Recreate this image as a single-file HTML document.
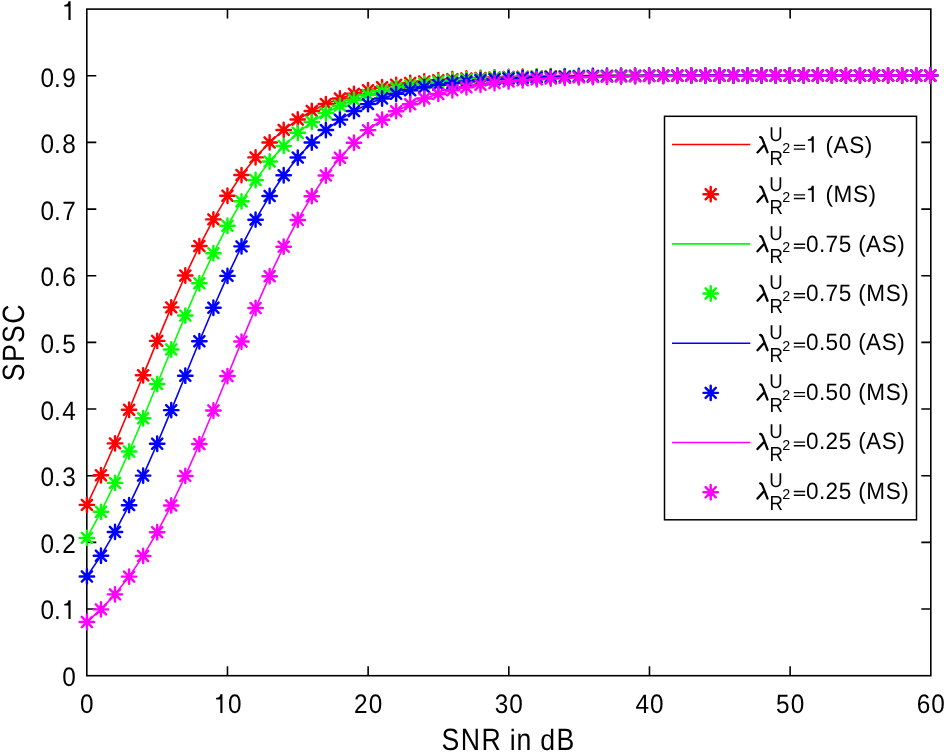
<!DOCTYPE html><html><head><meta charset="utf-8"><style>html,body{margin:0;padding:0;background:#fff;overflow:hidden}#w{position:absolute;left:0;top:0;width:944px;height:753px;will-change:transform}svg{display:block}text{font-family:"Liberation Sans",sans-serif;fill:#000;text-rendering:geometricPrecision}</style></head><body><div id="w">
<svg width="944" height="753" viewBox="0 0 944 753">
<rect x="0" y="0" width="944" height="753" fill="#fff"/>
<path d="M227.47,675.7V666.2M227.47,9.1V18.6M368.13,675.7V666.2M368.13,9.1V18.6M508.80,675.7V666.2M508.80,9.1V18.6M649.47,675.7V666.2M649.47,9.1V18.6M790.13,675.7V666.2M790.13,9.1V18.6M86.8,609.04H96.3M930.8,609.04H921.3M86.8,542.38H96.3M930.8,542.38H921.3M86.8,475.72H96.3M930.8,475.72H921.3M86.8,409.06H96.3M930.8,409.06H921.3M86.8,342.40H96.3M930.8,342.40H921.3M86.8,275.74H96.3M930.8,275.74H921.3M86.8,209.08H96.3M930.8,209.08H921.3M86.8,142.42H96.3M930.8,142.42H921.3M86.8,75.76H96.3M930.8,75.76H921.3" fill="none" stroke="#000" stroke-width="1.6"/>
<rect x="86.8" y="9.1" width="844.00" height="666.60" fill="none" stroke="#000" stroke-width="1.6"/>
<polyline points="86.91,504.85 100.97,475.28 115.02,443.38 129.08,409.79 143.13,375.33 157.19,340.89 171.24,307.36 185.30,275.54 199.36,246.07 213.41,219.39 227.47,195.71 241.52,175.08 255.58,157.39 269.63,142.42 283.69,129.90 297.75,119.53 311.80,111.01 325.86,104.05 339.91,98.40 353.97,93.83 368.02,90.15 382.08,87.19 396.13,84.82 410.19,82.93 424.25,81.41 438.30,80.20 452.36,79.24 466.41,78.47 480.47,77.86 494.52,77.38 508.58,76.99 522.64,76.68 536.69,76.44 550.75,76.24 564.80,76.09 578.86,75.96 592.91,75.87 606.97,75.79 621.03,75.73 635.08,75.68 649.14,75.64 663.19,75.61 677.25,75.58 691.30,75.57 705.36,75.55 719.41,75.54 733.47,75.53 747.53,75.52 761.58,75.51 775.64,75.51 789.69,75.51 803.75,75.50 817.80,75.50 831.86,75.50 845.92,75.50 859.97,75.49 874.03,75.49 888.08,75.49 902.14,75.49 916.19,75.49 930.25,75.49" fill="none" stroke="#ff0000" stroke-width="1.6" stroke-linejoin="round"/>
<path d="M79.71,504.85H94.11M86.91,497.65V512.05M81.82,499.76L92.00,509.95M81.82,509.95L92.00,499.76M93.77,475.28H108.17M100.97,468.08V482.48M95.87,470.19L106.06,480.37M95.87,480.37L106.06,470.19M107.82,443.38H122.22M115.02,436.18V450.58M109.93,438.28L120.11,448.47M109.93,448.47L120.11,438.28M121.88,409.79H136.28M129.08,402.59V416.99M123.99,404.70L134.17,414.88M123.99,414.88L134.17,404.70M135.93,375.33H150.33M143.13,368.13V382.53M138.04,370.24L148.22,380.42M138.04,380.42L148.22,370.24M149.99,340.89H164.39M157.19,333.69V348.09M152.10,335.80L162.28,345.98M152.10,345.98L162.28,335.80M164.04,307.36H178.44M171.24,300.16V314.56M166.15,302.27L176.34,312.45M166.15,312.45L176.34,302.27M178.10,275.54H192.50M185.30,268.34V282.74M180.21,270.45L190.39,280.63M180.21,280.63L190.39,270.45M192.16,246.07H206.56M199.36,238.87V253.27M194.26,240.98L204.45,251.17M194.26,251.17L204.45,240.98M206.21,219.39H220.61M213.41,212.19V226.59M208.32,214.30L218.50,224.48M208.32,224.48L218.50,214.30M220.27,195.71H234.67M227.47,188.51V202.91M222.38,190.62L232.56,200.80M222.38,200.80L232.56,190.62M234.32,175.08H248.72M241.52,167.88V182.28M236.43,169.99L246.61,180.17M236.43,180.17L246.61,169.99M248.38,157.39H262.78M255.58,150.19V164.59M250.49,152.30L260.67,162.48M250.49,162.48L260.67,152.30M262.43,142.42H276.83M269.63,135.22V149.62M264.54,137.33L274.72,147.51M264.54,147.51L274.72,137.33M276.49,129.90H290.89M283.69,122.70V137.10M278.60,124.81L288.78,134.99M278.60,134.99L288.78,124.81M290.55,119.53H304.94M297.75,112.33V126.73M292.65,114.44L302.84,124.62M292.65,124.62L302.84,114.44M304.60,111.01H319.00M311.80,103.81V118.21M306.71,105.92L316.89,116.10M306.71,116.10L316.89,105.92M318.66,104.05H333.06M325.86,96.85V111.25M320.77,98.96L330.95,109.14M320.77,109.14L330.95,98.96M332.71,98.40H347.11M339.91,91.20V105.60M334.82,93.31L345.00,103.49M334.82,103.49L345.00,93.31M346.77,93.83H361.17M353.97,86.63V101.03M348.88,88.74L359.06,98.92M348.88,98.92L359.06,88.74M360.82,90.15H375.22M368.02,82.95V97.35M362.93,85.06L373.11,95.24M362.93,95.24L373.11,85.06M374.88,87.19H389.28M382.08,79.99V94.39M376.99,82.10L387.17,92.29M376.99,92.29L387.17,82.10M388.93,84.82H403.33M396.13,77.62V92.02M391.04,79.73L401.23,89.92M391.04,89.92L401.23,79.73M402.99,82.93H417.39M410.19,75.73V90.13M405.10,77.84L415.28,88.02M405.10,88.02L415.28,77.84M417.05,81.41H431.45M424.25,74.21V88.61M419.15,76.32L429.34,86.50M419.15,86.50L429.34,76.32M431.10,80.20H445.50M438.30,73.00V87.40M433.21,75.11L443.39,85.30M433.21,85.30L443.39,75.11M445.16,79.24H459.56M452.36,72.04V86.44M447.27,74.15L457.45,84.33M447.27,84.33L457.45,74.15M459.21,78.47H473.61M466.41,71.27V85.67M461.32,73.38L471.50,83.56M461.32,83.56L471.50,73.38M473.27,77.86H487.67M480.47,70.66V85.06M475.38,72.77L485.56,82.95M475.38,82.95L485.56,72.77M487.32,77.38H501.72M494.52,70.18V84.58M489.43,72.28L499.62,82.47M489.43,82.47L499.62,72.28M501.38,76.99H515.78M508.58,69.79V84.19M503.49,71.90L513.67,82.08M503.49,82.08L513.67,71.90M515.44,76.68H529.84M522.64,69.48V83.88M517.54,71.59L527.73,81.77M517.54,81.77L527.73,71.59M529.49,76.44H543.89M536.69,69.24V83.64M531.60,71.35L541.78,81.53M531.60,81.53L541.78,71.35M543.55,76.24H557.95M550.75,69.04V83.44M545.66,71.15L555.84,81.33M545.66,81.33L555.84,71.15M557.60,76.09H572.00M564.80,68.89V83.29M559.71,71.00L569.89,81.18M559.71,81.18L569.89,71.00M571.66,75.96H586.06M578.86,68.76V83.16M573.77,70.87L583.95,81.06M573.77,81.06L583.95,70.87M585.71,75.87H600.11M592.91,68.67V83.07M587.82,70.78L598.01,80.96M587.82,80.96L598.01,70.78M599.77,75.79H614.17M606.97,68.59V82.99M601.88,70.70L612.06,80.88M601.88,80.88L612.06,70.70M613.83,75.73H628.23M621.03,68.53V82.93M615.93,70.64L626.12,80.82M615.93,80.82L626.12,70.64M627.88,75.68H642.28M635.08,68.48V82.88M629.99,70.59L640.17,80.77M629.99,80.77L640.17,70.59M641.94,75.64H656.34M649.14,68.44V82.84M644.05,70.55L654.23,80.73M644.05,80.73L654.23,70.55M655.99,75.61H670.39M663.19,68.41V82.81M658.10,70.52L668.28,80.70M658.10,80.70L668.28,70.52M670.05,75.58H684.45M677.25,68.38V82.78M672.16,70.49L682.34,80.68M672.16,80.68L682.34,70.49M684.10,75.57H698.50M691.30,68.37V82.77M686.21,70.47L696.39,80.66M686.21,80.66L696.39,70.47M698.16,75.55H712.56M705.36,68.35V82.75M700.27,70.46L710.45,80.64M700.27,80.64L710.45,70.46M712.21,75.54H726.62M719.41,68.34V82.74M714.32,70.45L724.51,80.63M714.32,80.63L724.51,70.45M726.27,75.53H740.67M733.47,68.33V82.73M728.38,70.44L738.56,80.62M728.38,80.62L738.56,70.44M740.33,75.52H754.73M747.53,68.32V82.72M742.44,70.43L752.62,80.61M742.44,80.61L752.62,70.43M754.38,75.51H768.78M761.58,68.31V82.71M756.49,70.42L766.67,80.60M756.49,80.60L766.67,70.42M768.44,75.51H782.84M775.64,68.31V82.71M770.55,70.42L780.73,80.60M770.55,80.60L780.73,70.42M782.49,75.51H796.89M789.69,68.31V82.71M784.60,70.41L794.78,80.60M784.60,80.60L794.78,70.41M796.55,75.50H810.95M803.75,68.30V82.70M798.66,70.41L808.84,80.59M798.66,80.59L808.84,70.41M810.60,75.50H825.00M817.80,68.30V82.70M812.71,70.41L822.90,80.59M812.71,80.59L822.90,70.41M824.66,75.50H839.06M831.86,68.30V82.70M826.77,70.41L836.95,80.59M826.77,80.59L836.95,70.41M838.72,75.50H853.12M845.92,68.30V82.70M840.82,70.40L851.01,80.59M840.82,80.59L851.01,70.40M852.77,75.49H867.17M859.97,68.29V82.69M854.88,70.40L865.06,80.59M854.88,80.59L865.06,70.40M866.83,75.49H881.23M874.03,68.29V82.69M868.94,70.40L879.12,80.58M868.94,80.58L879.12,70.40M880.88,75.49H895.28M888.08,68.29V82.69M882.99,70.40L893.17,80.58M882.99,80.58L893.17,70.40M894.94,75.49H909.34M902.14,68.29V82.69M897.05,70.40L907.23,80.58M897.05,80.58L907.23,70.40M908.99,75.49H923.39M916.19,68.29V82.69M911.10,70.40L921.29,80.58M911.10,80.58L921.29,70.40M923.05,75.49H937.45M930.25,68.29V82.69M925.16,70.40L935.34,80.58M925.16,80.58L935.34,70.40" fill="none" stroke="#ff0000" stroke-width="2.45" stroke-linecap="round"/>
<polyline points="86.91,537.88 100.97,511.81 115.02,482.89 129.08,451.52 143.13,418.28 157.19,383.96 171.24,349.43 185.30,315.59 199.36,283.28 213.41,253.18 227.47,225.77 241.52,201.33 255.58,179.95 269.63,161.54 283.69,145.91 297.75,132.81 311.80,121.93 325.86,112.98 339.91,105.65 353.97,99.70 368.02,94.88 382.08,91.00 396.13,87.87 410.19,85.37 424.25,83.36 438.30,81.76 452.36,80.48 466.41,79.46 480.47,78.65 494.52,78.00 508.58,77.49 522.64,77.08 536.69,76.75 550.75,76.49 564.80,76.29 578.86,76.12 592.91,75.99 606.97,75.89 621.03,75.81 635.08,75.74 649.14,75.69 663.19,75.65 677.25,75.62 691.30,75.59 705.36,75.57 719.41,75.55 733.47,75.54 747.53,75.53 761.58,75.52 775.64,75.52 789.69,75.51 803.75,75.51 817.80,75.50 831.86,75.50 845.92,75.50 859.97,75.50 874.03,75.50 888.08,75.49 902.14,75.49 916.19,75.49 930.25,75.49" fill="none" stroke="#00ff00" stroke-width="1.6" stroke-linejoin="round"/>
<path d="M79.71,537.88H94.11M86.91,530.68V545.08M81.82,532.79L92.00,542.97M81.82,542.97L92.00,532.79M93.77,511.81H108.17M100.97,504.61V519.01M95.87,506.72L106.06,516.90M95.87,516.90L106.06,506.72M107.82,482.89H122.22M115.02,475.69V490.09M109.93,477.80L120.11,487.98M109.93,487.98L120.11,477.80M121.88,451.52H136.28M129.08,444.32V458.72M123.99,446.43L134.17,456.61M123.99,456.61L134.17,446.43M135.93,418.28H150.33M143.13,411.08V425.48M138.04,413.19L148.22,423.37M138.04,423.37L148.22,413.19M149.99,383.96H164.39M157.19,376.76V391.16M152.10,378.87L162.28,389.05M152.10,389.05L162.28,378.87M164.04,349.43H178.44M171.24,342.23V356.63M166.15,344.34L176.34,354.52M166.15,354.52L176.34,344.34M178.10,315.59H192.50M185.30,308.39V322.79M180.21,310.50L190.39,320.68M180.21,320.68L190.39,310.50M192.16,283.28H206.56M199.36,276.08V290.48M194.26,278.19L204.45,288.37M194.26,288.37L204.45,278.19M206.21,253.18H220.61M213.41,245.98V260.38M208.32,248.09L218.50,258.27M208.32,258.27L218.50,248.09M220.27,225.77H234.67M227.47,218.57V232.97M222.38,220.68L232.56,230.86M222.38,230.86L232.56,220.68M234.32,201.33H248.72M241.52,194.13V208.53M236.43,196.24L246.61,206.42M236.43,206.42L246.61,196.24M248.38,179.95H262.78M255.58,172.75V187.15M250.49,174.85L260.67,185.04M250.49,185.04L260.67,174.85M262.43,161.54H276.83M269.63,154.34V168.74M264.54,156.45L274.72,166.63M264.54,166.63L274.72,156.45M276.49,145.91H290.89M283.69,138.71V153.11M278.60,140.82L288.78,151.00M278.60,151.00L288.78,140.82M290.55,132.81H304.94M297.75,125.61V140.01M292.65,127.72L302.84,137.90M292.65,137.90L302.84,127.72M304.60,121.93H319.00M311.80,114.73V129.13M306.71,116.84L316.89,127.02M306.71,127.02L316.89,116.84M318.66,112.98H333.06M325.86,105.78V120.18M320.77,107.88L330.95,118.07M320.77,118.07L330.95,107.88M332.71,105.65H347.11M339.91,98.45V112.85M334.82,100.56L345.00,110.74M334.82,110.74L345.00,100.56M346.77,99.70H361.17M353.97,92.50V106.90M348.88,94.61L359.06,104.79M348.88,104.79L359.06,94.61M360.82,94.88H375.22M368.02,87.68V102.08M362.93,89.79L373.11,99.97M362.93,99.97L373.11,89.79M374.88,91.00H389.28M382.08,83.80V98.20M376.99,85.90L387.17,96.09M376.99,96.09L387.17,85.90M388.93,87.87H403.33M396.13,80.67V95.07M391.04,82.78L401.23,92.96M391.04,92.96L401.23,82.78M402.99,85.37H417.39M410.19,78.17V92.57M405.10,80.28L415.28,90.46M405.10,90.46L415.28,80.28M417.05,83.36H431.45M424.25,76.16V90.56M419.15,78.27L429.34,88.45M419.15,88.45L429.34,78.27M431.10,81.76H445.50M438.30,74.56V88.96M433.21,76.67L443.39,86.85M433.21,86.85L443.39,76.67M445.16,80.48H459.56M452.36,73.28V87.68M447.27,75.39L457.45,85.57M447.27,85.57L457.45,75.39M459.21,79.46H473.61M466.41,72.26V86.66M461.32,74.37L471.50,84.55M461.32,84.55L471.50,74.37M473.27,78.65H487.67M480.47,71.45V85.85M475.38,73.56L485.56,83.74M475.38,83.74L485.56,73.56M487.32,78.00H501.72M494.52,70.80V85.20M489.43,72.91L499.62,83.09M489.43,83.09L499.62,72.91M501.38,77.49H515.78M508.58,70.29V84.69M503.49,72.40L513.67,82.58M503.49,82.58L513.67,72.40M515.44,77.08H529.84M522.64,69.88V84.28M517.54,71.99L527.73,82.17M517.54,82.17L527.73,71.99M529.49,76.75H543.89M536.69,69.55V83.95M531.60,71.66L541.78,81.84M531.60,81.84L541.78,71.66M543.55,76.49H557.95M550.75,69.29V83.69M545.66,71.40L555.84,81.58M545.66,81.58L555.84,71.40M557.60,76.29H572.00M564.80,69.09V83.49M559.71,71.20L569.89,81.38M559.71,81.38L569.89,71.20M571.66,76.12H586.06M578.86,68.92V83.32M573.77,71.03L583.95,81.21M573.77,81.21L583.95,71.03M585.71,75.99H600.11M592.91,68.79V83.19M587.82,70.90L598.01,81.08M587.82,81.08L598.01,70.90M599.77,75.89H614.17M606.97,68.69V83.09M601.88,70.80L612.06,80.98M601.88,80.98L612.06,70.80M613.83,75.81H628.23M621.03,68.61V83.01M615.93,70.72L626.12,80.90M615.93,80.90L626.12,70.72M627.88,75.74H642.28M635.08,68.54V82.94M629.99,70.65L640.17,80.83M629.99,80.83L640.17,70.65M641.94,75.69H656.34M649.14,68.49V82.89M644.05,70.60L654.23,80.78M644.05,80.78L654.23,70.60M655.99,75.65H670.39M663.19,68.45V82.85M658.10,70.56L668.28,80.74M658.10,80.74L668.28,70.56M670.05,75.62H684.45M677.25,68.42V82.82M672.16,70.53L682.34,80.71M672.16,80.71L682.34,70.53M684.10,75.59H698.50M691.30,68.39V82.79M686.21,70.50L696.39,80.68M686.21,80.68L696.39,70.50M698.16,75.57H712.56M705.36,68.37V82.77M700.27,70.48L710.45,80.66M700.27,80.66L710.45,70.48M712.21,75.55H726.62M719.41,68.35V82.75M714.32,70.46L724.51,80.64M714.32,80.64L724.51,70.46M726.27,75.54H740.67M733.47,68.34V82.74M728.38,70.45L738.56,80.63M728.38,80.63L738.56,70.45M740.33,75.53H754.73M747.53,68.33V82.73M742.44,70.44L752.62,80.62M742.44,80.62L752.62,70.44M754.38,75.52H768.78M761.58,68.32V82.72M756.49,70.43L766.67,80.61M756.49,80.61L766.67,70.43M768.44,75.52H782.84M775.64,68.32V82.72M770.55,70.42L780.73,80.61M770.55,80.61L780.73,70.42M782.49,75.51H796.89M789.69,68.31V82.71M784.60,70.42L794.78,80.60M784.60,80.60L794.78,70.42M796.55,75.51H810.95M803.75,68.31V82.71M798.66,70.41L808.84,80.60M798.66,80.60L808.84,70.41M810.60,75.50H825.00M817.80,68.30V82.70M812.71,70.41L822.90,80.59M812.71,80.59L822.90,70.41M824.66,75.50H839.06M831.86,68.30V82.70M826.77,70.41L836.95,80.59M826.77,80.59L836.95,70.41M838.72,75.50H853.12M845.92,68.30V82.70M840.82,70.41L851.01,80.59M840.82,80.59L851.01,70.41M852.77,75.50H867.17M859.97,68.30V82.70M854.88,70.41L865.06,80.59M854.88,80.59L865.06,70.41M866.83,75.50H881.23M874.03,68.30V82.70M868.94,70.40L879.12,80.59M868.94,80.59L879.12,70.40M880.88,75.49H895.28M888.08,68.29V82.69M882.99,70.40L893.17,80.59M882.99,80.59L893.17,70.40M894.94,75.49H909.34M902.14,68.29V82.69M897.05,70.40L907.23,80.58M897.05,80.58L907.23,70.40M908.99,75.49H923.39M916.19,68.29V82.69M911.10,70.40L921.29,80.58M911.10,80.58L921.29,70.40M923.05,75.49H937.45M930.25,68.29V82.69M925.16,70.40L935.34,80.58M925.16,80.58L935.34,70.40" fill="none" stroke="#00ff00" stroke-width="2.45" stroke-linecap="round"/>
<polyline points="86.91,576.42 100.97,555.69 115.02,531.92 129.08,505.15 143.13,475.60 157.19,443.71 171.24,410.14 185.30,375.69 199.36,341.24 213.41,307.70 227.47,275.86 241.52,246.36 255.58,219.65 269.63,195.94 283.69,175.28 297.75,157.56 311.80,142.56 325.86,130.02 339.91,119.63 353.97,111.09 368.02,104.11 382.08,98.45 396.13,93.87 410.19,90.19 424.25,87.22 438.30,84.85 452.36,82.95 466.41,81.43 480.47,80.22 494.52,79.25 508.58,78.48 522.64,77.87 536.69,77.38 550.75,76.99 564.80,76.68 578.86,76.44 592.91,76.24 606.97,76.09 621.03,75.97 635.08,75.87 649.14,75.79 663.19,75.73 677.25,75.68 691.30,75.64 705.36,75.61 719.41,75.59 733.47,75.57 747.53,75.55 761.58,75.54 775.64,75.53 789.69,75.52 803.75,75.51 817.80,75.51 831.86,75.51 845.92,75.50 859.97,75.50 874.03,75.50 888.08,75.50 902.14,75.49 916.19,75.49 930.25,75.49" fill="none" stroke="#0000ff" stroke-width="1.6" stroke-linejoin="round"/>
<path d="M79.71,576.42H94.11M86.91,569.22V583.62M81.82,571.32L92.00,581.51M81.82,581.51L92.00,571.32M93.77,555.69H108.17M100.97,548.49V562.89M95.87,550.60L106.06,560.78M95.87,560.78L106.06,550.60M107.82,531.92H122.22M115.02,524.72V539.12M109.93,526.83L120.11,537.01M109.93,537.01L120.11,526.83M121.88,505.15H136.28M129.08,497.95V512.35M123.99,500.05L134.17,510.24M123.99,510.24L134.17,500.05M135.93,475.60H150.33M143.13,468.40V482.80M138.04,470.50L148.22,480.69M138.04,480.69L148.22,470.50M149.99,443.71H164.39M157.19,436.51V450.91M152.10,438.62L162.28,448.81M152.10,448.81L162.28,438.62M164.04,410.14H178.44M171.24,402.94V417.34M166.15,405.05L176.34,415.23M166.15,415.23L176.34,405.05M178.10,375.69H192.50M185.30,368.49V382.89M180.21,370.60L190.39,380.78M180.21,380.78L190.39,370.60M192.16,341.24H206.56M199.36,334.04V348.44M194.26,336.15L204.45,346.33M194.26,346.33L204.45,336.15M206.21,307.70H220.61M213.41,300.50V314.90M208.32,302.61L218.50,312.79M208.32,312.79L218.50,302.61M220.27,275.86H234.67M227.47,268.66V283.06M222.38,270.77L232.56,280.95M222.38,280.95L232.56,270.77M234.32,246.36H248.72M241.52,239.16V253.56M236.43,241.27L246.61,251.46M236.43,251.46L246.61,241.27M248.38,219.65H262.78M255.58,212.45V226.85M250.49,214.56L260.67,224.74M250.49,224.74L260.67,214.56M262.43,195.94H276.83M269.63,188.74V203.14M264.54,190.85L274.72,201.03M264.54,201.03L274.72,190.85M276.49,175.28H290.89M283.69,168.08V182.48M278.60,170.19L288.78,180.37M278.60,180.37L288.78,170.19M290.55,157.56H304.94M297.75,150.36V164.76M292.65,152.47L302.84,162.65M292.65,162.65L302.84,152.47M304.60,142.56H319.00M311.80,135.36V149.76M306.71,137.47L316.89,147.65M306.71,147.65L316.89,137.47M318.66,130.02H333.06M325.86,122.82V137.22M320.77,124.93L330.95,135.11M320.77,135.11L330.95,124.93M332.71,119.63H347.11M339.91,112.43V126.83M334.82,114.54L345.00,124.72M334.82,124.72L345.00,114.54M346.77,111.09H361.17M353.97,103.89V118.29M348.88,106.00L359.06,116.18M348.88,116.18L359.06,106.00M360.82,104.11H375.22M368.02,96.91V111.31M362.93,99.02L373.11,109.21M362.93,109.21L373.11,99.02M374.88,98.45H389.28M382.08,91.25V105.65M376.99,93.36L387.17,103.54M376.99,103.54L387.17,93.36M388.93,93.87H403.33M396.13,86.67V101.07M391.04,88.78L401.23,98.96M391.04,98.96L401.23,88.78M402.99,90.19H417.39M410.19,82.99V97.39M405.10,85.09L415.28,95.28M405.10,95.28L415.28,85.09M417.05,87.22H431.45M424.25,80.02V94.42M419.15,82.13L429.34,92.31M419.15,92.31L429.34,82.13M431.10,84.85H445.50M438.30,77.65V92.05M433.21,79.76L443.39,89.94M433.21,89.94L443.39,79.76M445.16,82.95H459.56M452.36,75.75V90.15M447.27,77.85L457.45,88.04M447.27,88.04L457.45,77.85M459.21,81.43H473.61M466.41,74.23V88.63M461.32,76.34L471.50,86.52M461.32,86.52L471.50,76.34M473.27,80.22H487.67M480.47,73.02V87.42M475.38,75.12L485.56,85.31M475.38,85.31L485.56,75.12M487.32,79.25H501.72M494.52,72.05V86.45M489.43,74.16L499.62,84.34M489.43,84.34L499.62,74.16M501.38,78.48H515.78M508.58,71.28V85.68M503.49,73.39L513.67,83.57M503.49,83.57L513.67,73.39M515.44,77.87H529.84M522.64,70.67V85.07M517.54,72.78L527.73,82.96M517.54,82.96L527.73,72.78M529.49,77.38H543.89M536.69,70.18V84.58M531.60,72.29L541.78,82.47M531.60,82.47L541.78,72.29M543.55,76.99H557.95M550.75,69.79V84.19M545.66,71.90L555.84,82.08M545.66,82.08L555.84,71.90M557.60,76.68H572.00M564.80,69.48V83.88M559.71,71.59L569.89,81.78M559.71,81.78L569.89,71.59M571.66,76.44H586.06M578.86,69.24V83.64M573.77,71.35L583.95,81.53M573.77,81.53L583.95,71.35M585.71,76.24H600.11M592.91,69.04V83.44M587.82,71.15L598.01,81.34M587.82,81.34L598.01,71.15M599.77,76.09H614.17M606.97,68.89V83.29M601.88,71.00L612.06,81.18M601.88,81.18L612.06,71.00M613.83,75.97H628.23M621.03,68.77V83.17M615.93,70.87L626.12,81.06M615.93,81.06L626.12,70.87M627.88,75.87H642.28M635.08,68.67V83.07M629.99,70.78L640.17,80.96M629.99,80.96L640.17,70.78M641.94,75.79H656.34M649.14,68.59V82.99M644.05,70.70L654.23,80.88M644.05,80.88L654.23,70.70M655.99,75.73H670.39M663.19,68.53V82.93M658.10,70.64L668.28,80.82M658.10,80.82L668.28,70.64M670.05,75.68H684.45M677.25,68.48V82.88M672.16,70.59L682.34,80.77M672.16,80.77L682.34,70.59M684.10,75.64H698.50M691.30,68.44V82.84M686.21,70.55L696.39,80.73M686.21,80.73L696.39,70.55M698.16,75.61H712.56M705.36,68.41V82.81M700.27,70.52L710.45,80.70M700.27,80.70L710.45,70.52M712.21,75.59H726.62M719.41,68.39V82.79M714.32,70.49L724.51,80.68M714.32,80.68L724.51,70.49M726.27,75.57H740.67M733.47,68.37V82.77M728.38,70.47L738.56,80.66M728.38,80.66L738.56,70.47M740.33,75.55H754.73M747.53,68.35V82.75M742.44,70.46L752.62,80.64M742.44,80.64L752.62,70.46M754.38,75.54H768.78M761.58,68.34V82.74M756.49,70.45L766.67,80.63M756.49,80.63L766.67,70.45M768.44,75.53H782.84M775.64,68.33V82.73M770.55,70.44L780.73,80.62M770.55,80.62L780.73,70.44M782.49,75.52H796.89M789.69,68.32V82.72M784.60,70.43L794.78,80.61M784.60,80.61L794.78,70.43M796.55,75.51H810.95M803.75,68.31V82.71M798.66,70.42L808.84,80.60M798.66,80.60L808.84,70.42M810.60,75.51H825.00M817.80,68.31V82.71M812.71,70.42L822.90,80.60M812.71,80.60L822.90,70.42M824.66,75.51H839.06M831.86,68.31V82.71M826.77,70.41L836.95,80.60M826.77,80.60L836.95,70.41M838.72,75.50H853.12M845.92,68.30V82.70M840.82,70.41L851.01,80.59M840.82,80.59L851.01,70.41M852.77,75.50H867.17M859.97,68.30V82.70M854.88,70.41L865.06,80.59M854.88,80.59L865.06,70.41M866.83,75.50H881.23M874.03,68.30V82.70M868.94,70.41L879.12,80.59M868.94,80.59L879.12,70.41M880.88,75.50H895.28M888.08,68.30V82.70M882.99,70.40L893.17,80.59M882.99,80.59L893.17,70.40M894.94,75.49H909.34M902.14,68.29V82.69M897.05,70.40L907.23,80.59M897.05,80.59L907.23,70.40M908.99,75.49H923.39M916.19,68.29V82.69M911.10,70.40L921.29,80.58M911.10,80.58L921.29,70.40M923.05,75.49H937.45M930.25,68.29V82.69M925.16,70.40L935.34,80.58M925.16,80.58L935.34,70.40" fill="none" stroke="#0000ff" stroke-width="2.45" stroke-linecap="round"/>
<polyline points="86.91,621.95 100.97,609.39 115.02,594.36 129.08,576.61 143.13,555.92 157.19,532.18 171.24,505.44 185.30,475.91 199.36,444.05 213.41,410.50 227.47,376.05 241.52,341.59 255.58,308.04 269.63,276.18 283.69,246.65 297.75,219.91 311.80,196.17 325.86,175.48 339.91,157.73 353.97,142.70 368.02,130.14 382.08,119.72 396.13,111.17 410.19,104.18 424.25,98.50 438.30,93.92 452.36,90.22 466.41,87.25 480.47,84.87 494.52,82.96 508.58,81.44 522.64,80.23 536.69,79.26 550.75,78.49 564.80,77.87 578.86,77.38 592.91,77.00 606.97,76.69 621.03,76.44 635.08,76.25 649.14,76.09 663.19,75.97 677.25,75.87 691.30,75.79 705.36,75.73 719.41,75.68 733.47,75.64 747.53,75.61 761.58,75.59 775.64,75.57 789.69,75.55 803.75,75.54 817.80,75.53 831.86,75.52 845.92,75.51 859.97,75.51 874.03,75.51 888.08,75.50 902.14,75.50 916.19,75.50 930.25,75.50" fill="none" stroke="#ff00ff" stroke-width="1.6" stroke-linejoin="round"/>
<path d="M79.71,621.95H94.11M86.91,614.75V629.15M81.82,616.86L92.00,627.04M81.82,627.04L92.00,616.86M93.77,609.39H108.17M100.97,602.19V616.59M95.87,604.30L106.06,614.48M95.87,614.48L106.06,604.30M107.82,594.36H122.22M115.02,587.16V601.56M109.93,589.27L120.11,599.46M109.93,599.46L120.11,589.27M121.88,576.61H136.28M129.08,569.41V583.81M123.99,571.52L134.17,581.70M123.99,581.70L134.17,571.52M135.93,555.92H150.33M143.13,548.72V563.12M138.04,550.83L148.22,561.01M138.04,561.01L148.22,550.83M149.99,532.18H164.39M157.19,524.98V539.38M152.10,527.09L162.28,537.27M152.10,537.27L162.28,527.09M164.04,505.44H178.44M171.24,498.24V512.64M166.15,500.34L176.34,510.53M166.15,510.53L176.34,500.34M178.10,475.91H192.50M185.30,468.71V483.11M180.21,470.82L190.39,481.00M180.21,481.00L190.39,470.82M192.16,444.05H206.56M199.36,436.85V451.25M194.26,438.96L204.45,449.14M194.26,449.14L204.45,438.96M206.21,410.50H220.61M213.41,403.30V417.70M208.32,405.40L218.50,415.59M208.32,415.59L218.50,405.40M220.27,376.05H234.67M227.47,368.85V383.25M222.38,370.95L232.56,381.14M222.38,381.14L232.56,370.95M234.32,341.59H248.72M241.52,334.39V348.79M236.43,336.50L246.61,346.69M236.43,346.69L246.61,336.50M248.38,308.04H262.78M255.58,300.84V315.24M250.49,302.95L260.67,313.13M250.49,313.13L260.67,302.95M262.43,276.18H276.83M269.63,268.98V283.38M264.54,271.09L274.72,281.27M264.54,281.27L274.72,271.09M276.49,246.65H290.89M283.69,239.45V253.85M278.60,241.56L288.78,251.75M278.60,251.75L288.78,241.56M290.55,219.91H304.94M297.75,212.71V227.11M292.65,214.82L302.84,225.00M292.65,225.00L302.84,214.82M304.60,196.17H319.00M311.80,188.97V203.37M306.71,191.08L316.89,201.26M306.71,201.26L316.89,191.08M318.66,175.48H333.06M325.86,168.28V182.68M320.77,170.39L330.95,180.57M320.77,180.57L330.95,170.39M332.71,157.73H347.11M339.91,150.53V164.93M334.82,152.63L345.00,162.82M334.82,162.82L345.00,152.63M346.77,142.70H361.17M353.97,135.50V149.90M348.88,137.61L359.06,147.79M348.88,147.79L359.06,137.61M360.82,130.14H375.22M368.02,122.94V137.34M362.93,125.05L373.11,135.23M362.93,135.23L373.11,125.05M374.88,119.72H389.28M382.08,112.52V126.92M376.99,114.63L387.17,124.82M376.99,124.82L387.17,114.63M388.93,111.17H403.33M396.13,103.97V118.37M391.04,106.08L401.23,116.26M391.04,116.26L401.23,106.08M402.99,104.18H417.39M410.19,96.98V111.38M405.10,99.09L415.28,109.27M405.10,109.27L415.28,99.09M417.05,98.50H431.45M424.25,91.30V105.70M419.15,93.41L429.34,103.60M419.15,103.60L429.34,93.41M431.10,93.92H445.50M438.30,86.72V101.12M433.21,88.82L443.39,99.01M433.21,99.01L443.39,88.82M445.16,90.22H459.56M452.36,83.02V97.42M447.27,85.13L457.45,95.31M447.27,95.31L457.45,85.13M459.21,87.25H473.61M466.41,80.05V94.45M461.32,82.16L471.50,92.34M461.32,92.34L471.50,82.16M473.27,84.87H487.67M480.47,77.67V92.07M475.38,79.78L485.56,89.96M475.38,89.96L485.56,79.78M487.32,82.96H501.72M494.52,75.76V90.16M489.43,77.87L499.62,88.05M489.43,88.05L499.62,77.87M501.38,81.44H515.78M508.58,74.24V88.64M503.49,76.35L513.67,86.53M503.49,86.53L513.67,76.35M515.44,80.23H529.84M522.64,73.03V87.43M517.54,75.14L527.73,85.32M517.54,85.32L527.73,75.14M529.49,79.26H543.89M536.69,72.06V86.46M531.60,74.17L541.78,84.35M531.60,84.35L541.78,74.17M543.55,78.49H557.95M550.75,71.29V85.69M545.66,73.40L555.84,83.58M545.66,83.58L555.84,73.40M557.60,77.87H572.00M564.80,70.67V85.07M559.71,72.78L569.89,82.96M559.71,82.96L569.89,72.78M571.66,77.38H586.06M578.86,70.18V84.58M573.77,72.29L583.95,82.48M573.77,82.48L583.95,72.29M585.71,77.00H600.11M592.91,69.80V84.20M587.82,71.91L598.01,82.09M587.82,82.09L598.01,71.91M599.77,76.69H614.17M606.97,69.49V83.89M601.88,71.60L612.06,81.78M601.88,81.78L612.06,71.60M613.83,76.44H628.23M621.03,69.24V83.64M615.93,71.35L626.12,81.53M615.93,81.53L626.12,71.35M627.88,76.25H642.28M635.08,69.05V83.45M629.99,71.15L640.17,81.34M629.99,81.34L640.17,71.15M641.94,76.09H656.34M649.14,68.89V83.29M644.05,71.00L654.23,81.18M644.05,81.18L654.23,71.00M655.99,75.97H670.39M663.19,68.77V83.17M658.10,70.88L668.28,81.06M658.10,81.06L668.28,70.88M670.05,75.87H684.45M677.25,68.67V83.07M672.16,70.78L682.34,80.96M672.16,80.96L682.34,70.78M684.10,75.79H698.50M691.30,68.59V82.99M686.21,70.70L696.39,80.88M686.21,80.88L696.39,70.70M698.16,75.73H712.56M705.36,68.53V82.93M700.27,70.64L710.45,80.82M700.27,80.82L710.45,70.64M712.21,75.68H726.62M719.41,68.48V82.88M714.32,70.59L724.51,80.77M714.32,80.77L724.51,70.59M726.27,75.64H740.67M733.47,68.44V82.84M728.38,70.55L738.56,80.73M728.38,80.73L738.56,70.55M740.33,75.61H754.73M747.53,68.41V82.81M742.44,70.52L752.62,80.70M742.44,80.70L752.62,70.52M754.38,75.59H768.78M761.58,68.39V82.79M756.49,70.49L766.67,80.68M756.49,80.68L766.67,70.49M768.44,75.57H782.84M775.64,68.37V82.77M770.55,70.47L780.73,80.66M770.55,80.66L780.73,70.47M782.49,75.55H796.89M789.69,68.35V82.75M784.60,70.46L794.78,80.64M784.60,80.64L794.78,70.46M796.55,75.54H810.95M803.75,68.34V82.74M798.66,70.45L808.84,80.63M798.66,80.63L808.84,70.45M810.60,75.53H825.00M817.80,68.33V82.73M812.71,70.44L822.90,80.62M812.71,80.62L822.90,70.44M824.66,75.52H839.06M831.86,68.32V82.72M826.77,70.43L836.95,80.61M826.77,80.61L836.95,70.43M838.72,75.51H853.12M845.92,68.31V82.71M840.82,70.42L851.01,80.61M840.82,80.61L851.01,70.42M852.77,75.51H867.17M859.97,68.31V82.71M854.88,70.42L865.06,80.60M854.88,80.60L865.06,70.42M866.83,75.51H881.23M874.03,68.31V82.71M868.94,70.41L879.12,80.60M868.94,80.60L879.12,70.41M880.88,75.50H895.28M888.08,68.30V82.70M882.99,70.41L893.17,80.59M882.99,80.59L893.17,70.41M894.94,75.50H909.34M902.14,68.30V82.70M897.05,70.41L907.23,80.59M897.05,80.59L907.23,70.41M908.99,75.50H923.39M916.19,68.30V82.70M911.10,70.41L921.29,80.59M911.10,80.59L921.29,70.41M923.05,75.50H937.45M930.25,68.30V82.70M925.16,70.40L935.34,80.59M925.16,80.59L935.34,70.40" fill="none" stroke="#ff00ff" stroke-width="2.45" stroke-linecap="round"/>
<text transform="translate(69.02,686.00) scale(0.93,1.02)" font-size="26.2" text-anchor="middle">0</text>
<text transform="translate(47.17,619.00) scale(0.93,1.02)" font-size="26.2" text-anchor="middle">0</text><text transform="translate(57.29,619.00) scale(0.93,1.02)" font-size="26.2" text-anchor="middle">.</text><path transform="translate(61.54,619.00) scale(24.366,-26.323)" d="M0.372,0L0.283,0L0.283,0.510L0.112,0.510L0.112,0.572C0.239,0.589 0.258,0.603 0.286,0.709L0.372,0.709Z"/>
<text transform="translate(47.17,553.00) scale(0.93,1.02)" font-size="26.2" text-anchor="middle">0</text><text transform="translate(57.29,553.00) scale(0.93,1.02)" font-size="26.2" text-anchor="middle">.</text><text transform="translate(69.02,553.00) scale(0.93,1.02)" font-size="26.2" text-anchor="middle">2</text>
<text transform="translate(47.17,486.00) scale(0.93,1.02)" font-size="26.2" text-anchor="middle">0</text><text transform="translate(57.29,486.00) scale(0.93,1.02)" font-size="26.2" text-anchor="middle">.</text><text transform="translate(69.02,486.00) scale(0.93,1.02)" font-size="26.2" text-anchor="middle">3</text>
<text transform="translate(47.17,420.00) scale(0.93,1.02)" font-size="26.2" text-anchor="middle">0</text><text transform="translate(57.29,420.00) scale(0.93,1.02)" font-size="26.2" text-anchor="middle">.</text><text transform="translate(69.02,420.00) scale(0.93,1.02)" font-size="26.2" text-anchor="middle">4</text>
<text transform="translate(47.17,353.00) scale(0.93,1.02)" font-size="26.2" text-anchor="middle">0</text><text transform="translate(57.29,353.00) scale(0.93,1.02)" font-size="26.2" text-anchor="middle">.</text><text transform="translate(69.02,353.00) scale(0.93,1.02)" font-size="26.2" text-anchor="middle">5</text>
<text transform="translate(47.17,286.00) scale(0.93,1.02)" font-size="26.2" text-anchor="middle">0</text><text transform="translate(57.29,286.00) scale(0.93,1.02)" font-size="26.2" text-anchor="middle">.</text><text transform="translate(69.02,286.00) scale(0.93,1.02)" font-size="26.2" text-anchor="middle">6</text>
<text transform="translate(47.17,220.00) scale(0.93,1.02)" font-size="26.2" text-anchor="middle">0</text><text transform="translate(57.29,220.00) scale(0.93,1.02)" font-size="26.2" text-anchor="middle">.</text><text transform="translate(69.02,220.00) scale(0.93,1.02)" font-size="26.2" text-anchor="middle">7</text>
<text transform="translate(47.17,153.00) scale(0.93,1.02)" font-size="26.2" text-anchor="middle">0</text><text transform="translate(57.29,153.00) scale(0.93,1.02)" font-size="26.2" text-anchor="middle">.</text><text transform="translate(69.02,153.00) scale(0.93,1.02)" font-size="26.2" text-anchor="middle">8</text>
<text transform="translate(47.17,87.00) scale(0.93,1.02)" font-size="26.2" text-anchor="middle">0</text><text transform="translate(57.29,87.00) scale(0.93,1.02)" font-size="26.2" text-anchor="middle">.</text><text transform="translate(69.02,87.00) scale(0.93,1.02)" font-size="26.2" text-anchor="middle">9</text>
<path transform="translate(61.54,20.00) scale(24.366,-26.323)" d="M0.372,0L0.283,0L0.283,0.510L0.112,0.510L0.112,0.572C0.239,0.589 0.258,0.603 0.286,0.709L0.372,0.709Z"/>
<text transform="translate(86.80,712.93) scale(0.93,1.02)" font-size="26.2" text-anchor="middle">0</text>
<path transform="translate(213.41,712.93) scale(24.366,-26.323)" d="M0.372,0L0.283,0L0.283,0.510L0.112,0.510L0.112,0.572C0.239,0.589 0.258,0.603 0.286,0.709L0.372,0.709Z"/><text transform="translate(234.75,712.93) scale(0.93,1.02)" font-size="26.2" text-anchor="middle">0</text>
<text transform="translate(360.85,712.93) scale(0.93,1.02)" font-size="26.2" text-anchor="middle">2</text><text transform="translate(375.42,712.93) scale(0.93,1.02)" font-size="26.2" text-anchor="middle">0</text>
<text transform="translate(501.52,712.93) scale(0.93,1.02)" font-size="26.2" text-anchor="middle">3</text><text transform="translate(516.08,712.93) scale(0.93,1.02)" font-size="26.2" text-anchor="middle">0</text>
<text transform="translate(642.18,712.93) scale(0.93,1.02)" font-size="26.2" text-anchor="middle">4</text><text transform="translate(656.75,712.93) scale(0.93,1.02)" font-size="26.2" text-anchor="middle">0</text>
<text transform="translate(782.85,712.93) scale(0.93,1.02)" font-size="26.2" text-anchor="middle">5</text><text transform="translate(797.42,712.93) scale(0.93,1.02)" font-size="26.2" text-anchor="middle">0</text>
<text transform="translate(923.52,712.93) scale(0.93,1.02)" font-size="26.2" text-anchor="middle">6</text><text transform="translate(938.08,712.93) scale(0.93,1.02)" font-size="26.2" text-anchor="middle">0</text>
<text transform="translate(450.49,750.30) scale(0.93,1.075)" font-size="28.7" text-anchor="middle">S</text><text transform="translate(470.42,750.30) scale(0.93,1.075)" font-size="28.7" text-anchor="middle">N</text><text transform="translate(491.14,750.30) scale(0.93,1.075)" font-size="28.7" text-anchor="middle">R</text><text transform="translate(512.66,750.30) scale(0.93,1.0266)" font-size="28.7" text-anchor="middle">i</text><text transform="translate(523.83,750.30) scale(0.93,1.075)" font-size="28.7" text-anchor="middle">n</text><text transform="translate(547.76,750.30) scale(0.93,1.0266)" font-size="28.7" text-anchor="middle">d</text><text transform="translate(565.31,750.30) scale(0.93,1.075)" font-size="28.7" text-anchor="middle">B</text>
<g transform="translate(23.7,342.8) rotate(-90)"><text transform="translate(-29.50,0.00) scale(0.93,1.075)" font-size="28.7" text-anchor="middle">S</text><text transform="translate(-10.36,0.00) scale(0.93,1.075)" font-size="28.7" text-anchor="middle">P</text><text transform="translate(8.78,0.00) scale(0.93,1.075)" font-size="28.7" text-anchor="middle">S</text><text transform="translate(28.71,0.00) scale(0.93,1.075)" font-size="28.7" text-anchor="middle">C</text></g>
<rect x="664.5" y="116.3" width="252.0" height="403.50" fill="#fff" stroke="#000" stroke-width="1.5"/>
<path d="M672,144.50H750.3" stroke="#ff0000" stroke-width="1.6"/>
<path d="M760.2,137.20C761.9,137.40 762.6,139.00 763.3,141.50L767.5,152.40M763.6,145.70L757.5,152.40" fill="none" stroke="#000" stroke-width="2.3" stroke-linecap="round"/>
<text transform="translate(769.2,141.30) scale(1,1.08)" font-size="18.6">U</text>
<text transform="translate(769.6,164.60) scale(1,1.09)" font-size="18.6">R</text>
<text x="782.3" y="152.80" font-size="14.3">2</text>
<path d="M793.8,144.70h11.3v1.4h-11.3zM793.8,148.40h11.3v1.4h-11.3z"/>
<path transform="translate(805.39,152.60) scale(22.560,-23.148)" d="M0.372,0L0.283,0L0.283,0.510L0.112,0.510L0.112,0.572C0.239,0.589 0.258,0.603 0.286,0.709L0.372,0.709Z"/><text transform="translate(829.24,152.60) scale(0.96,1.0)" font-size="23.5" text-anchor="middle">(</text><text transform="translate(840.99,152.60) scale(0.96,1.0)" font-size="23.5" text-anchor="middle">A</text><text transform="translate(856.66,152.60) scale(0.96,1.0)" font-size="23.5" text-anchor="middle">S</text><text transform="translate(868.41,152.60) scale(0.96,1.0)" font-size="23.5" text-anchor="middle">)</text>
<path d="M703.50,194.17H717.90M710.70,186.97V201.37M705.61,189.08L715.79,199.26M705.61,199.26L715.79,189.08" fill="none" stroke="#ff0000" stroke-width="2.45" stroke-linecap="round"/>
<path d="M760.2,186.65C761.9,186.85 762.6,188.45 763.3,190.95L767.5,201.85M763.6,195.15L757.5,201.85" fill="none" stroke="#000" stroke-width="2.3" stroke-linecap="round"/>
<text transform="translate(769.2,190.68) scale(1,1.08)" font-size="18.6">U</text>
<text transform="translate(769.6,214.00) scale(1,1.09)" font-size="18.6">R</text>
<text x="782.3" y="202.25" font-size="14.3">2</text>
<path d="M793.8,194.15h11.3v1.4h-11.3zM793.8,197.85h11.3v1.4h-11.3z"/>
<path transform="translate(805.39,202.05) scale(22.560,-23.148)" d="M0.372,0L0.283,0L0.283,0.510L0.112,0.510L0.112,0.572C0.239,0.589 0.258,0.603 0.286,0.709L0.372,0.709Z"/><text transform="translate(829.24,202.05) scale(0.96,1.0)" font-size="23.5" text-anchor="middle">(</text><text transform="translate(842.94,202.05) scale(0.96,1.0)" font-size="23.5" text-anchor="middle">M</text><text transform="translate(860.56,202.05) scale(0.96,1.0)" font-size="23.5" text-anchor="middle">S</text><text transform="translate(872.31,202.05) scale(0.96,1.0)" font-size="23.5" text-anchor="middle">)</text>
<path d="M672,243.84H750.3" stroke="#00ff00" stroke-width="1.6"/>
<path d="M760.2,236.10C761.9,236.30 762.6,237.90 763.3,240.40L767.5,251.30M763.6,244.60L757.5,251.30" fill="none" stroke="#000" stroke-width="2.3" stroke-linecap="round"/>
<text transform="translate(769.2,240.06) scale(1,1.08)" font-size="18.6">U</text>
<text transform="translate(769.6,263.40) scale(1,1.09)" font-size="18.6">R</text>
<text x="782.3" y="251.70" font-size="14.3">2</text>
<path d="M793.8,243.60h11.3v1.4h-11.3zM793.8,247.30h11.3v1.4h-11.3z"/>
<text transform="translate(812.26,251.50) scale(0.96,1.0)" font-size="23.5" text-anchor="middle">0</text><text transform="translate(822.06,251.50) scale(0.96,1.0)" font-size="23.5" text-anchor="middle">.</text><text transform="translate(831.86,251.50) scale(0.96,1.0)" font-size="23.5" text-anchor="middle">7</text><text transform="translate(844.92,251.50) scale(0.96,1.0)" font-size="23.5" text-anchor="middle">5</text><text transform="translate(861.90,251.50) scale(0.96,1.0)" font-size="23.5" text-anchor="middle">(</text><text transform="translate(873.65,251.50) scale(0.96,1.0)" font-size="23.5" text-anchor="middle">A</text><text transform="translate(889.33,251.50) scale(0.96,1.0)" font-size="23.5" text-anchor="middle">S</text><text transform="translate(901.08,251.50) scale(0.96,1.0)" font-size="23.5" text-anchor="middle">)</text>
<path d="M703.50,293.51H717.90M710.70,286.31V300.71M705.61,288.42L715.79,298.60M705.61,298.60L715.79,288.42" fill="none" stroke="#00ff00" stroke-width="2.45" stroke-linecap="round"/>
<path d="M760.2,285.55C761.9,285.75 762.6,287.35 763.3,289.85L767.5,300.75M763.6,294.05L757.5,300.75" fill="none" stroke="#000" stroke-width="2.3" stroke-linecap="round"/>
<text transform="translate(769.2,289.44) scale(1,1.08)" font-size="18.6">U</text>
<text transform="translate(769.6,312.80) scale(1,1.09)" font-size="18.6">R</text>
<text x="782.3" y="301.15" font-size="14.3">2</text>
<path d="M793.8,293.05h11.3v1.4h-11.3zM793.8,296.75h11.3v1.4h-11.3z"/>
<text transform="translate(812.26,300.95) scale(0.96,1.0)" font-size="23.5" text-anchor="middle">0</text><text transform="translate(822.06,300.95) scale(0.96,1.0)" font-size="23.5" text-anchor="middle">.</text><text transform="translate(831.86,300.95) scale(0.96,1.0)" font-size="23.5" text-anchor="middle">7</text><text transform="translate(844.92,300.95) scale(0.96,1.0)" font-size="23.5" text-anchor="middle">5</text><text transform="translate(861.90,300.95) scale(0.96,1.0)" font-size="23.5" text-anchor="middle">(</text><text transform="translate(875.60,300.95) scale(0.96,1.0)" font-size="23.5" text-anchor="middle">M</text><text transform="translate(893.23,300.95) scale(0.96,1.0)" font-size="23.5" text-anchor="middle">S</text><text transform="translate(904.98,300.95) scale(0.96,1.0)" font-size="23.5" text-anchor="middle">)</text>
<path d="M672,343.18H750.3" stroke="#0000ff" stroke-width="1.6"/>
<path d="M760.2,335.00C761.9,335.20 762.6,336.80 763.3,339.30L767.5,350.20M763.6,343.50L757.5,350.20" fill="none" stroke="#000" stroke-width="2.3" stroke-linecap="round"/>
<text transform="translate(769.2,338.82) scale(1,1.08)" font-size="18.6">U</text>
<text transform="translate(769.6,362.20) scale(1,1.09)" font-size="18.6">R</text>
<text x="782.3" y="350.60" font-size="14.3">2</text>
<path d="M793.8,342.50h11.3v1.4h-11.3zM793.8,346.20h11.3v1.4h-11.3z"/>
<text transform="translate(812.26,350.40) scale(0.96,1.0)" font-size="23.5" text-anchor="middle">0</text><text transform="translate(822.06,350.40) scale(0.96,1.0)" font-size="23.5" text-anchor="middle">.</text><text transform="translate(831.86,350.40) scale(0.96,1.0)" font-size="23.5" text-anchor="middle">5</text><text transform="translate(844.92,350.40) scale(0.96,1.0)" font-size="23.5" text-anchor="middle">0</text><text transform="translate(861.90,350.40) scale(0.96,1.0)" font-size="23.5" text-anchor="middle">(</text><text transform="translate(873.65,350.40) scale(0.96,1.0)" font-size="23.5" text-anchor="middle">A</text><text transform="translate(889.33,350.40) scale(0.96,1.0)" font-size="23.5" text-anchor="middle">S</text><text transform="translate(901.08,350.40) scale(0.96,1.0)" font-size="23.5" text-anchor="middle">)</text>
<path d="M703.50,392.85H717.90M710.70,385.65V400.05M705.61,387.76L715.79,397.94M705.61,397.94L715.79,387.76" fill="none" stroke="#0000ff" stroke-width="2.45" stroke-linecap="round"/>
<path d="M760.2,384.45C761.9,384.65 762.6,386.25 763.3,388.75L767.5,399.65M763.6,392.95L757.5,399.65" fill="none" stroke="#000" stroke-width="2.3" stroke-linecap="round"/>
<text transform="translate(769.2,388.20) scale(1,1.08)" font-size="18.6">U</text>
<text transform="translate(769.6,411.60) scale(1,1.09)" font-size="18.6">R</text>
<text x="782.3" y="400.05" font-size="14.3">2</text>
<path d="M793.8,391.95h11.3v1.4h-11.3zM793.8,395.65h11.3v1.4h-11.3z"/>
<text transform="translate(812.26,399.85) scale(0.96,1.0)" font-size="23.5" text-anchor="middle">0</text><text transform="translate(822.06,399.85) scale(0.96,1.0)" font-size="23.5" text-anchor="middle">.</text><text transform="translate(831.86,399.85) scale(0.96,1.0)" font-size="23.5" text-anchor="middle">5</text><text transform="translate(844.92,399.85) scale(0.96,1.0)" font-size="23.5" text-anchor="middle">0</text><text transform="translate(861.90,399.85) scale(0.96,1.0)" font-size="23.5" text-anchor="middle">(</text><text transform="translate(875.60,399.85) scale(0.96,1.0)" font-size="23.5" text-anchor="middle">M</text><text transform="translate(893.23,399.85) scale(0.96,1.0)" font-size="23.5" text-anchor="middle">S</text><text transform="translate(904.98,399.85) scale(0.96,1.0)" font-size="23.5" text-anchor="middle">)</text>
<path d="M672,442.52H750.3" stroke="#ff00ff" stroke-width="1.6"/>
<path d="M760.2,433.90C761.9,434.10 762.6,435.70 763.3,438.20L767.5,449.10M763.6,442.40L757.5,449.10" fill="none" stroke="#000" stroke-width="2.3" stroke-linecap="round"/>
<text transform="translate(769.2,437.58) scale(1,1.08)" font-size="18.6">U</text>
<text transform="translate(769.6,461.00) scale(1,1.09)" font-size="18.6">R</text>
<text x="782.3" y="449.50" font-size="14.3">2</text>
<path d="M793.8,441.40h11.3v1.4h-11.3zM793.8,445.10h11.3v1.4h-11.3z"/>
<text transform="translate(812.26,449.30) scale(0.96,1.0)" font-size="23.5" text-anchor="middle">0</text><text transform="translate(822.06,449.30) scale(0.96,1.0)" font-size="23.5" text-anchor="middle">.</text><text transform="translate(831.86,449.30) scale(0.96,1.0)" font-size="23.5" text-anchor="middle">2</text><text transform="translate(844.92,449.30) scale(0.96,1.0)" font-size="23.5" text-anchor="middle">5</text><text transform="translate(861.90,449.30) scale(0.96,1.0)" font-size="23.5" text-anchor="middle">(</text><text transform="translate(873.65,449.30) scale(0.96,1.0)" font-size="23.5" text-anchor="middle">A</text><text transform="translate(889.33,449.30) scale(0.96,1.0)" font-size="23.5" text-anchor="middle">S</text><text transform="translate(901.08,449.30) scale(0.96,1.0)" font-size="23.5" text-anchor="middle">)</text>
<path d="M703.50,492.19H717.90M710.70,484.99V499.39M705.61,487.10L715.79,497.28M705.61,497.28L715.79,487.10" fill="none" stroke="#ff00ff" stroke-width="2.45" stroke-linecap="round"/>
<path d="M760.2,483.35C761.9,483.55 762.6,485.15 763.3,487.65L767.5,498.55M763.6,491.85L757.5,498.55" fill="none" stroke="#000" stroke-width="2.3" stroke-linecap="round"/>
<text transform="translate(769.2,486.96) scale(1,1.08)" font-size="18.6">U</text>
<text transform="translate(769.6,510.40) scale(1,1.09)" font-size="18.6">R</text>
<text x="782.3" y="498.95" font-size="14.3">2</text>
<path d="M793.8,490.85h11.3v1.4h-11.3zM793.8,494.55h11.3v1.4h-11.3z"/>
<text transform="translate(812.26,498.75) scale(0.96,1.0)" font-size="23.5" text-anchor="middle">0</text><text transform="translate(822.06,498.75) scale(0.96,1.0)" font-size="23.5" text-anchor="middle">.</text><text transform="translate(831.86,498.75) scale(0.96,1.0)" font-size="23.5" text-anchor="middle">2</text><text transform="translate(844.92,498.75) scale(0.96,1.0)" font-size="23.5" text-anchor="middle">5</text><text transform="translate(861.90,498.75) scale(0.96,1.0)" font-size="23.5" text-anchor="middle">(</text><text transform="translate(875.60,498.75) scale(0.96,1.0)" font-size="23.5" text-anchor="middle">M</text><text transform="translate(893.23,498.75) scale(0.96,1.0)" font-size="23.5" text-anchor="middle">S</text><text transform="translate(904.98,498.75) scale(0.96,1.0)" font-size="23.5" text-anchor="middle">)</text>
</svg></div></body></html>
